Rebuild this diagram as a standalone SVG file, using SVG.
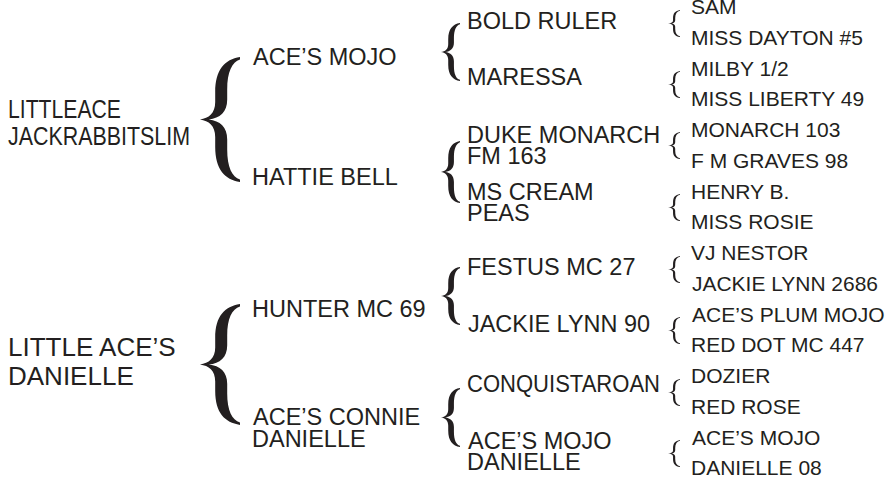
<svg xmlns="http://www.w3.org/2000/svg" xmlns:xlink="http://www.w3.org/1999/xlink" width="889" height="478" viewBox="0 0 889 478">
<style>
text{font-family:"Liberation Sans",Arial,sans-serif;fill:#231f20}
.g1{font-size:26px}
.g2{font-size:23.5px}
.g3{font-size:23.5px}
.g4{font-size:21px}
.br{fill:#231f20}
</style>
<defs>
<path id="brace" d="M100,0 C62,2 38,10 38,28 L38,36 C38,45 22,49 0,50 C22,51 38,55 38,64 L38,72 C38,90 62,98 100,100 L100,98 C80,96 68,88 68,74 L68,66 C68,56 50,51 22,50 C50,49 68,44 68,34 L68,26 C68,12 80,4 100,2 Z"/>
<path id="braceThin" d="M100,0 C60,3 42,12 42,30 L42,38 C42,46 28,49 0,50 C28,51 42,54 42,62 L42,70 C42,88 60,97 100,100 L100,97 C75,95 60,86 60,70 L60,62 C60,55 48,51 28,50 C48,49 60,45 60,38 L60,30 C60,14 75,5 100,3 Z"/>
</defs>
<rect width="889" height="478" fill="#fff"/>
<g id="connectors" class="br">
<use xlink:href="#brace" transform="translate(200,57) scale(0.4,1.25)"/>
<use xlink:href="#brace" transform="translate(200,304) scale(0.4,1.21)"/>
<use xlink:href="#brace" transform="translate(441,23) scale(0.19,0.58)"/>
<use xlink:href="#brace" transform="translate(441,141) scale(0.19,0.62)"/>
<use xlink:href="#brace" transform="translate(441,267) scale(0.19,0.58)"/>
<use xlink:href="#brace" transform="translate(441,388) scale(0.19,0.59)"/>
<use xlink:href="#braceThin" transform="translate(668,10) scale(0.12,0.27)"/>
<use xlink:href="#braceThin" transform="translate(668,71) scale(0.12,0.27)"/>
<use xlink:href="#braceThin" transform="translate(668,132) scale(0.12,0.27)"/>
<use xlink:href="#braceThin" transform="translate(668,194) scale(0.12,0.27)"/>
<use xlink:href="#braceThin" transform="translate(668,256) scale(0.12,0.27)"/>
<use xlink:href="#braceThin" transform="translate(668,317) scale(0.12,0.27)"/>
<use xlink:href="#braceThin" transform="translate(668,379) scale(0.12,0.27)"/>
<use xlink:href="#braceThin" transform="translate(668,440) scale(0.12,0.27)"/>
</g>
<g id="littleace-jackrabbitslim"><text class="g1" x="8" y="117.5" textLength="113" lengthAdjust="spacingAndGlyphs">LITTLEACE</text><text class="g1" x="8" y="145" textLength="182" lengthAdjust="spacingAndGlyphs">JACKRABBITSLIM</text></g>
<g id="little-aces-danielle"><text class="g1" x="8" y="356">LITTLE ACE’S</text><text class="g1" x="8" y="385">DANIELLE</text></g>
<g id="aces-mojo"><text class="g2" x="253" y="65">ACE’S MOJO</text></g>
<g id="hattie-bell"><text class="g2" x="252" y="185">HATTIE BELL</text></g>
<g id="hunter-mc-69"><text class="g2" x="252" y="317">HUNTER MC 69</text></g>
<g id="aces-connie-danielle"><text class="g2" x="253" y="425">ACE’S CONNIE</text><text class="g2" x="252" y="447">DANIELLE</text></g>
<g id="bold-ruler"><text class="g3" x="467" y="29">BOLD RULER</text></g>
<g id="maressa"><text class="g3" x="467" y="85">MARESSA</text></g>
<g id="duke-monarch"><text class="g3" x="467" y="143">DUKE MONARCH</text><text class="g3" x="467" y="163.5">FM 163</text></g>
<g id="ms-cream-peas"><text class="g3" x="467" y="200">MS CREAM</text><text class="g3" x="467" y="220.5">PEAS</text></g>
<g id="festus-mc-27"><text class="g3" x="467" y="275">FESTUS MC 27</text></g>
<g id="jackie-lynn-90"><text class="g3" x="468" y="332" textLength="182" lengthAdjust="spacingAndGlyphs">JACKIE LYNN 90</text></g>
<g id="conquistaroan"><text class="g3" x="467" y="392" textLength="193" lengthAdjust="spacingAndGlyphs">CONQUISTAROAN</text></g>
<g id="aces-mojo-danielle"><text class="g3" x="468" y="449">ACE’S MOJO</text><text class="g3" x="467" y="469.5">DANIELLE</text></g>
<g id="sam"><text class="g4" x="691" y="14">SAM</text></g>
<g id="miss-dayton-5"><text class="g4" x="691" y="44.75">MISS DAYTON #5</text></g>
<g id="milby-1-2"><text class="g4" x="691" y="75.5">MILBY 1/2</text></g>
<g id="miss-liberty-49"><text class="g4" x="691" y="106.25">MISS LIBERTY 49</text></g>
<g id="monarch-103"><text class="g4" x="691" y="137">MONARCH 103</text></g>
<g id="f-m-graves-98"><text class="g4" x="691" y="167.75">F M GRAVES 98</text></g>
<g id="henry-b"><text class="g4" x="691" y="198.5">HENRY B.</text></g>
<g id="miss-rosie"><text class="g4" x="691" y="229.25">MISS ROSIE</text></g>
<g id="vj-nestor"><text class="g4" x="691" y="260">VJ NESTOR</text></g>
<g id="jackie-lynn-2686"><text class="g4" x="692" y="290.75" textLength="186" lengthAdjust="spacingAndGlyphs">JACKIE LYNN 2686</text></g>
<g id="aces-plum-mojo"><text class="g4" x="692" y="321.5">ACE’S PLUM MOJO</text></g>
<g id="red-dot-mc-447"><text class="g4" x="691" y="352.25">RED DOT MC 447</text></g>
<g id="dozier"><text class="g4" x="691" y="383">DOZIER</text></g>
<g id="red-rose"><text class="g4" x="691" y="413.75">RED ROSE</text></g>
<g id="aces-mojo-2"><text class="g4" x="692" y="444.5">ACE’S MOJO</text></g>
<g id="danielle-08"><text class="g4" x="691" y="475.25">DANIELLE 08</text></g>
</svg>
